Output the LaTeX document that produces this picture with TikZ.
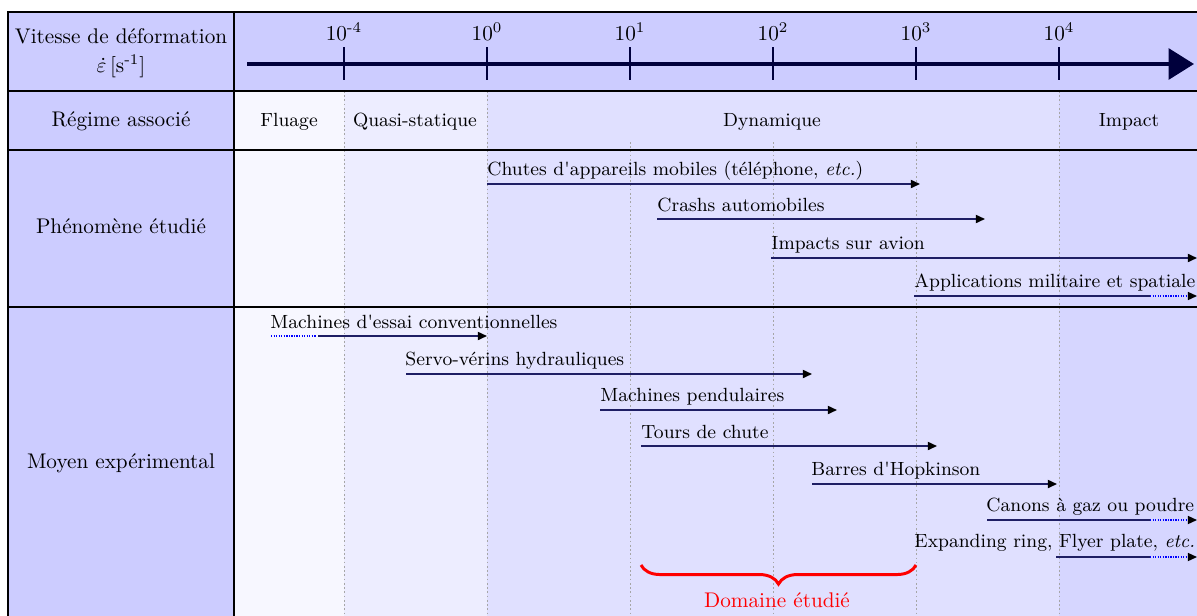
\documentclass[tikz,border=0pt]{standalone}
\usepackage{fontspec}
\usetikzlibrary{arrows.meta,decorations.pathreplacing}
\definecolor{axiscol}{RGB}{0,0,60}
\definecolor{arrcol}{RGB}{30,30,100}
\begin{document}
\begin{tikzpicture}[x=0.4717pt,y=-0.4717pt,
  tab/.style={draw=black,line width=1pt},
  gridline/.style={draw=gray!70,line width=0.4pt,dash pattern=on 0.8pt off 1.2pt},
  axisline/.style={draw=axiscol,line width=1.9pt,-{Triangle[length=12pt,width=14.5pt]}},
  tickline/.style={draw=axiscol,line width=1.3pt},
  seg/.style={draw=arrcol,line width=0.8pt},
  arr/.style={draw=arrcol,line width=0.8pt,-{Triangle[length=4.3pt,width=3.8pt,black]}},
  dotarr/.style={draw=blue,line width=0.7pt,dash pattern=on 0.6pt off 0.6pt,-{Triangle[length=4.3pt,width=3.8pt,black]}},
  dotseg/.style={draw=blue,line width=0.7pt,dash pattern=on 0.6pt off 0.6pt},
  txt/.style={anchor=base west,inner sep=0pt,font=\small},
  lbl/.style={anchor=base,inner sep=0pt},
  reglbl/.style={anchor=base,inner sep=0pt,font=\small},
  ticklbl/.style={anchor=base,inner sep=0pt}]
\clip (0,0) rectangle (1197,615);
% backgrounds
\fill[blue!20] (8,12) rectangle (1210,91);
\fill[blue!20] (8,91) rectangle (234,630);
\fill[blue!3] (234,91) rectangle (344,630);
\fill[blue!7] (344,91) rectangle (487,630);
\fill[blue!12] (487,91) rectangle (1059,630);
\fill[blue!16] (1059,91) rectangle (1210,630);
% dotted grid
\foreach \gx in {344,487,1059} \draw[gridline] (\gx,91) -- (\gx,615);
\foreach \gx in {630,773,916} \draw[gridline] (\gx,142) -- (\gx,615);
% table lines
\draw[tab] (1210,12) -- (8,12) -- (8,630);
\draw[tab] (234,12) -- (234,630);
\draw[tab] (8,91) -- (1210,91);
\draw[tab] (8,150) -- (1210,150);
\draw[tab] (8,307) -- (1210,307);
% left column
\node[align=center,inner sep=0pt] (hdr) at (121,53) {Vitesse de déformation\\[1.8pt]$\dot{\varepsilon}$\,[s\textsuperscript{-1}]};
\node[lbl] (reg) at (121,126) {Régime associé};
\node[lbl] (phe) at (121,233) {Phénomène étudié};
\node[lbl] (moy) at (121,468) {Moyen expérimental};
% axis
\coordinate (axs) at (247,64);
\coordinate (axe) at (1194,64);
\draw[axisline] (axs) -- (axe);
\foreach \tx/\tl/\tn in {344/{-4}/a,487/{0}/b,630/{1}/c,773/{2}/d,916/{3}/e,1059/{4}/f}{
  \draw[tickline] (\tx,47) -- (\tx,80);
  \node[ticklbl] (tick\tn) at (\tx,40) {10\textsuperscript{\tl}};
}
% regimes
\node[reglbl] (flu) at (289,126) {Fluage};
\node[reglbl] (qs) at (415,126) {Quasi-statique};
\node[reglbl] (dyn) at (772,126) {Dynamique};
\node[reglbl] (imp) at (1129,126) {Impact};
% phenomenes
\coordinate (p1s) at (487,184); \coordinate (p1e) at (920,184);
\node[txt] (p1) at (487,175) {Chutes d\textquotesingle appareils mobiles (téléphone, \textit{etc.})};
\draw[arr] (p1s) -- (p1e);
\coordinate (p2s) at (657,219); \coordinate (p2e) at (985,219);
\node[txt] (p2) at (657,211) {Crashs automobiles};
\draw[arr] (p2s) -- (p2e);
\coordinate (p3s) at (771,258); \coordinate (p3e) at (1197,258);
\node[txt] (p3) at (771,249) {Impacts sur avion};
\draw[arr] (p3s) -- (p3e);
\coordinate (p4s) at (914,296); \coordinate (p4m) at (1150,296); \coordinate (p4e) at (1197,296);
\node[txt] (p4) at (914,287) {Applications militaire et spatiale};
\draw[seg] (p4s) -- (p4m);
\draw[dotarr] (p4m) -- (p4e);
% moyens
\coordinate (m1s) at (271,336); \coordinate (m1m) at (316,336); \coordinate (m1n) at (318,336); \coordinate (m1e) at (487,336);
\node[txt] (m1) at (270,328) {Machines d\textquotesingle essai conventionnelles};
\draw[dotseg] (m1s) -- (m1m);
\draw[arr] (m1n) -- (m1e);
\coordinate (m2s) at (406,374); \coordinate (m2e) at (812,374);
\node[txt] (m2) at (405,365) {Servo-vérins hydrauliques};
\draw[arr] (m2s) -- (m2e);
\coordinate (m3s) at (600,410); \coordinate (m3e) at (837,410);
\node[txt] (m3) at (600,401) {Machines pendulaires};
\draw[arr] (m3s) -- (m3e);
\coordinate (m4s) at (641,446); \coordinate (m4e) at (937,446);
\node[txt] (m4) at (641,438) {Tours de chute};
\draw[arr] (m4s) -- (m4e);
\coordinate (m5s) at (812,484); \coordinate (m5e) at (1057,484);
\node[txt] (m5) at (811,475) {Barres d\textquotesingle Hopkinson};
\draw[arr] (m5s) -- (m5e);
\coordinate (m6s) at (987,520); \coordinate (m6m) at (1150,520); \coordinate (m6e) at (1197,520);
\node[txt] (m6) at (986,511) {Canons à gaz ou poudre};
\draw[seg] (m6s) -- (m6m);
\draw[dotarr] (m6m) -- (m6e);
\coordinate (m7s) at (1056,557); \coordinate (m7m) at (1150,557); \coordinate (m7e) at (1197,557);
\node[txt] (m7) at (914,547) {Expanding ring, Flyer plate, \textit{etc.}};
\draw[seg] (m7s) -- (m7m);
\draw[dotarr] (m7m) -- (m7e);
% brace
\coordinate (bl) at (641,565); \coordinate (br) at (916,565);
\draw[red,line width=1.4pt,decorate,decoration={brace,mirror,amplitude=9pt}] (bl) -- (br);
\node[lbl,red] (dom) at (777,607) {Domaine étudié};
\end{tikzpicture}
\end{document}
